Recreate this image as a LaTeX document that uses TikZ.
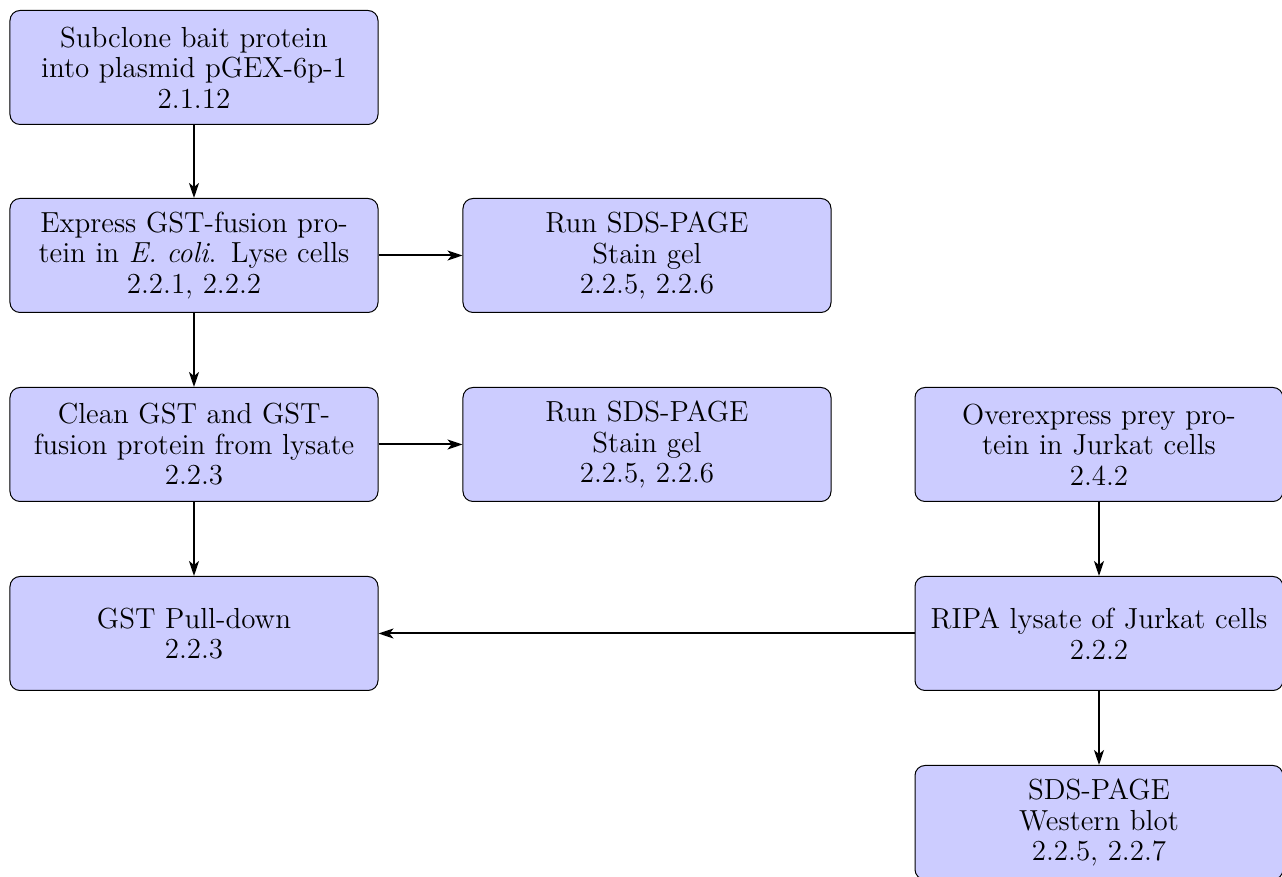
\documentclass[tikz,border=0pt]{standalone}
\usetikzlibrary{arrows.meta}
\begin{document}
\begin{tikzpicture}[x=0.4pt,y=-0.4pt,
  block/.style={rectangle, draw, fill=blue!20, text width=141pt, align=center,
    rounded corners=4pt, minimum height=45.6pt, inner sep=3.1pt,
    font=\fontsize{11.6pt}{12.2pt}\selectfont},
  link/.style={thick, -{Stealth[length=6pt,width=4pt,inset=1.6pt]}}]
\useasboundingbox (0,0) rectangle (1282,877);
\node[block] (sub) at (194,67.5) {Subclone bait protein\\into plasmid pGEX-6p-1\\2.1.12};
\node[block] (exp) at (194,255.5) {Express GST-fusion pro-\\tein in \emph{E. coli}. Lyse cells\\2.2.1, 2.2.2};
\node[block] (sds1) at (647,255.5) {Run SDS-PAGE\\Stain gel\\2.2.5, 2.2.6};
\node[block] (cln) at (194,444.5) {Clean GST and GST-\\fusion protein from lysate\\2.2.3};
\node[block] (sds2) at (647,444.5) {Run SDS-PAGE\\Stain gel\\2.2.5, 2.2.6};
\node[block] (ovx) at (1099,444.5) {Overexpress prey pro-\\tein in Jurkat cells\\2.4.2};
\node[block] (pull) at (194,633.5) {GST Pull-down\\2.2.3};
\node[block] (ripa) at (1099,633.5) {RIPA lysate of Jurkat cells\\2.2.2};
\node[block] (wb) at (1099,822.5) {SDS-PAGE\\Western blot\\2.2.5, 2.2.7};
\draw[link] (sub) -- (exp);
\draw[link] (exp) -- (sds1);
\draw[link] (exp) -- (cln);
\draw[link] (cln) -- (sds2);
\draw[link] (cln) -- (pull);
\draw[link] (ovx) -- (ripa);
\draw[link] (ripa) -- (pull);
\draw[link] (ripa) -- (wb);
\end{tikzpicture}
\end{document}
